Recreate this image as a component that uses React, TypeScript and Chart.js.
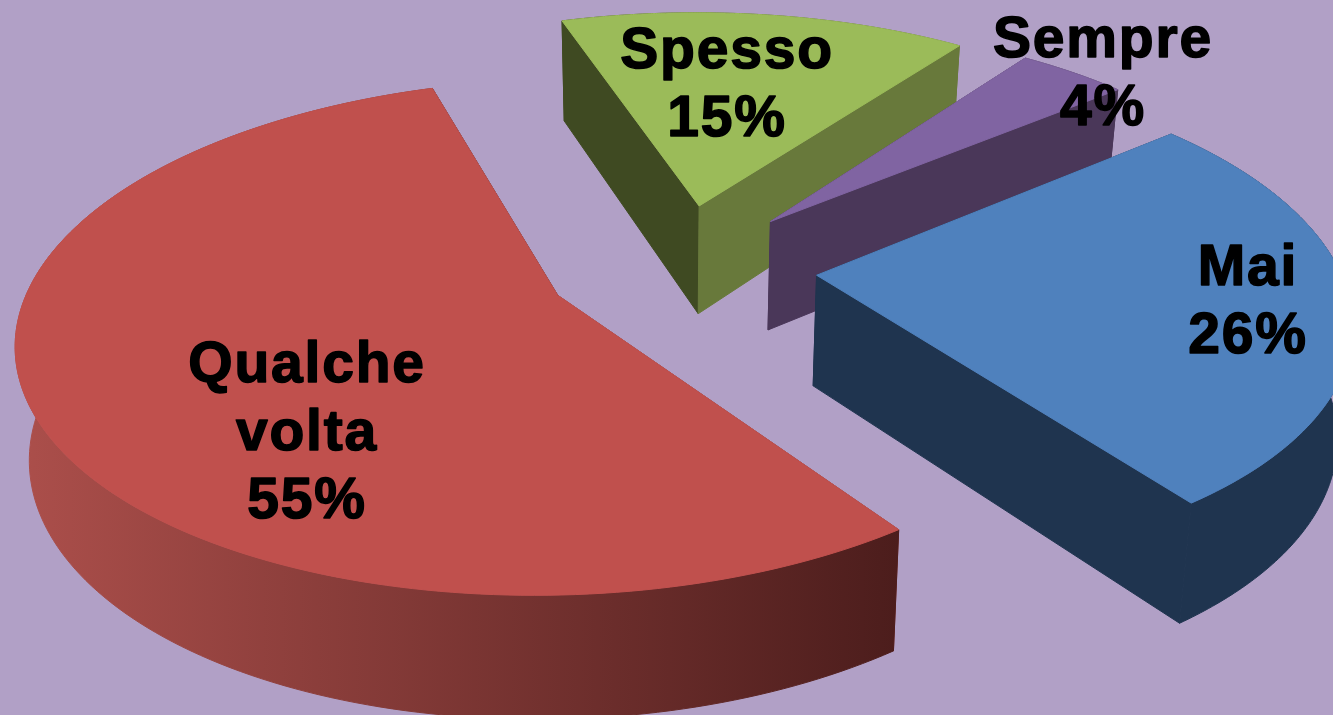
import React, { useEffect, useRef } from "react";
import { Chart, registerables } from "chart.js";

Chart.register(...registerables);

const categories = ["Mai", "Qualche volta", "Spesso", "Sempre"];
const shares = [26, 55, 15, 4];
const sliceColors = ["#4f81bd", "#c0504d", "#9bbb59", "#8064a2"];
const sliceOffsets = [84, 80, 84, 84];
const startWallColors = ["#1f344f", "#8a3a37", "#3f4a22", "#4a3759"];
const endWallColors = ["#1f344f", "#4c1d1c", "#68793b", "#4a3759"];
const outerWallLeft = ["#1f344f", "#ac4f4b", "#3f4a22", "#4a3759"];
const outerWallRight = ["#1f344f", "#4c1d1c", "#68793b", "#4a3759"];
const paintOrder = [2, 3, 0, 1];
const labelCenters = [1248, 307, 727, 1103];
const labelBaselines = [285, 382, 68, 57];

const BG = "#b1a0c6";
const view = { cx: 678, cy: 267, f: 522, g: 242, k: 0.16, vx: 660, q: 0.978 };

const project = (u: number, v: number) => {
  const w = 1 + view.k * v;
  return { x: view.cx + (view.f * u) / w, y: view.cy - (view.g * v) / w };
};
const drop = (p: { x: number; y: number }) => ({
  x: view.vx + (p.x - view.vx) * view.q,
  y: p.y + 100 + (p.y - 20) * 0.0417,
});

const poly = (ctx: CanvasRenderingContext2D, pts: { x: number; y: number }[], fill: any) => {
  ctx.beginPath();
  pts.forEach((p, i) => (i ? ctx.lineTo(p.x, p.y) : ctx.moveTo(p.x, p.y)));
  ctx.closePath();
  ctx.fillStyle = fill;
  ctx.fill();
  ctx.strokeStyle = fill;
  ctx.lineWidth = 1;
  ctx.stroke();
};

const pie3d = {
  id: "pie3d",
  beforeDatasetsDraw(chart: any) {
    const ctx: CanvasRenderingContext2D = chart.ctx;
    const arcs = chart.getDatasetMeta(0).data;
    ctx.save();
    paintOrder.forEach((i) => {
      const arc = arcs[i];
      const mid = (arc.startAngle + arc.endAngle) / 2;
      const e = arc.options.offset / arc.outerRadius;
      const ou = e * Math.cos(mid);
      const ov = -e * Math.sin(mid);
      const apex = project(ou, ov);
      const rim: { x: number; y: number }[] = [];
      const N = 160;
      for (let n = 0; n <= N; n++) {
        const a = arc.startAngle + ((arc.endAngle - arc.startAngle) * n) / N;
        rim.push(project(ou + Math.cos(a), ov - Math.sin(a)));
      }
      const xs = rim.map((p) => p.x);
      const grad = ctx.createLinearGradient(Math.min(...xs), 0, Math.max(...xs), 0);
      grad.addColorStop(0, outerWallLeft[i]);
      grad.addColorStop(1, outerWallRight[i]);
      const outer = () => poly(ctx, [...rim, ...rim.map(drop).reverse()], grad);
      const inner = () => {
        const first = rim[0];
        const last = rim[N];
        poly(ctx, [apex, first, drop(first), drop(apex)], startWallColors[i]);
        poly(ctx, [apex, last, drop(last), drop(apex)], endWallColors[i]);
      };
      if (ov > 0) {
        outer();
        inner();
      } else {
        inner();
        outer();
      }
      poly(ctx, [apex, ...rim], sliceColors[i]);
    });
    ctx.fillStyle = "#000";
    ctx.strokeStyle = "#000";
    ctx.lineWidth = 1.5;
    ctx.lineJoin = "round";
    ctx.textAlign = "center";
    ctx.textBaseline = "alphabetic";
    ctx.font = 'bold 57px "Liberation Sans"';
    (ctx as any).letterSpacing = "1.8px";
    categories.forEach((name, i) => {
      const lines = [...name.split(" "), `${chart.data.datasets[0].data[i]}%`];
      lines.forEach((t, l) => {
        const y = labelBaselines[i] + l * 68;
        ctx.strokeText(t, labelCenters[i], y);
        ctx.fillText(t, labelCenters[i], y);
      });
    });
    ctx.restore();
    return false;
  },
};

export default function App() {
  const ref = useRef<HTMLCanvasElement>(null);
  useEffect(() => {
    const chart = new Chart(ref.current!, {
      type: "pie",
      data: {
        labels: categories,
        datasets: [{ data: shares, backgroundColor: sliceColors, offset: sliceOffsets, borderWidth: 0 }],
      },
      options: {
        responsive: false,
        animation: false,
        rotation: 50.5,
        events: [],
        plugins: { legend: { display: false }, tooltip: { enabled: false } },
      },
      plugins: [pie3d],
    } as any);
    return () => chart.destroy();
  }, []);
  return (
    <div style={{ position: "fixed", left: 0, top: 0, width: 1333, height: 715, background: BG, overflow: "hidden" }}>
      <canvas ref={ref} width={1333} height={715} style={{ display: "block" }} />
    </div>
  );
}
